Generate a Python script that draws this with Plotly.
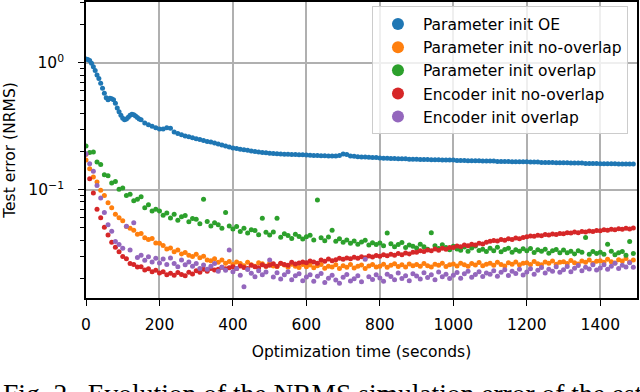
import plotly.graph_objects as go

# ---------------- data ----------------
TIME = [
    0, 10, 20, 30, 40, 50, 60, 70, 80, 90,
    100, 110, 120, 130, 140, 150, 160, 170, 180, 190,
    200, 210, 220, 230, 240, 250, 260, 270, 280, 290,
    300, 310, 320, 330, 340, 350, 360, 370, 380, 390,
    400, 410, 420, 430, 440, 450, 460, 470, 480, 490,
    500, 510, 520, 530, 540, 550, 560, 570, 580, 590,
    600, 610, 620, 630, 640, 650, 660, 670, 680, 690,
    700, 710, 720, 730, 740, 750, 760, 770, 780, 790,
    800, 810, 820, 830, 840, 850, 860, 870, 880, 890,
    900, 910, 920, 930, 940, 950, 960, 970, 980, 990,
    1000, 1010, 1020, 1030, 1040, 1050, 1060, 1070, 1080, 1090,
    1100, 1110, 1120, 1130, 1140, 1150, 1160, 1170, 1180, 1190,
    1200, 1210, 1220, 1230, 1240, 1250, 1260, 1270, 1280, 1290,
    1300, 1310, 1320, 1330, 1340, 1350, 1360, 1370, 1380, 1390,
    1400, 1410, 1420, 1430, 1440, 1450, 1460, 1470, 1480, 1490,
]

BLUE_TIME = [
    0, 5, 10, 15, 20, 25, 30, 35, 40, 45,
    50, 55, 60, 65, 70, 75, 80, 85, 90, 95,
    100, 105, 110, 115, 120, 125, 130, 135, 140, 145,
    150, 160, 170, 180, 190, 200, 210, 220, 230, 240,
    250, 260, 270, 280, 290, 300, 310, 320, 330, 340,
    350, 360, 370, 380, 390, 400, 410, 420, 430, 440,
    450, 460, 470, 480, 490, 500, 510, 520, 530, 540,
    550, 560, 570, 580, 590, 600, 610, 620, 630, 640,
    650, 660, 670, 680, 690, 700, 710, 720, 730, 740,
    750, 760, 770, 780, 790, 800, 810, 820, 830, 840,
    850, 860, 870, 880, 890, 900, 910, 920, 930, 940,
    950, 960, 970, 980, 990, 1000, 1010, 1020, 1030, 1040,
    1050, 1060, 1070, 1080, 1090, 1100, 1110, 1120, 1130, 1140,
    1150, 1160, 1170, 1180, 1190, 1200, 1210, 1220, 1230, 1240,
    1250, 1260, 1270, 1280, 1290, 1300, 1310, 1320, 1330, 1340,
    1350, 1360, 1370, 1380, 1390, 1400, 1410, 1420, 1430, 1440,
    1450, 1460, 1470, 1480, 1490,
]

PARAM_OE = [
    1.07, 1.06, 1.04, 0.99, 0.93, 0.87, 0.80, 0.75, 0.69, 0.63,
    0.575, 0.53, 0.51, 0.525, 0.52, 0.51, 0.48, 0.44, 0.41, 0.385,
    0.365, 0.356, 0.36, 0.372, 0.385, 0.392, 0.39, 0.38, 0.37, 0.36,
    0.355, 0.335, 0.325, 0.316, 0.308, 0.300, 0.301, 0.308, 0.305, 0.285,
    0.277, 0.271, 0.265, 0.261, 0.257, 0.252, 0.248, 0.244, 0.240, 0.237,
    0.233, 0.229, 0.225, 0.221, 0.217, 0.213, 0.211, 0.208, 0.206, 0.204,
    0.202, 0.200, 0.198, 0.196, 0.195, 0.194, 0.193, 0.192, 0.191, 0.190,
    0.190, 0.189, 0.189, 0.188, 0.188, 0.1875, 0.187, 0.186, 0.186, 0.185,
    0.185, 0.184, 0.184, 0.184, 0.186, 0.191, 0.189, 0.184, 0.183, 0.182,
    0.181, 0.181, 0.180, 0.179, 0.179, 0.178, 0.177, 0.177, 0.176, 0.176,
    0.175, 0.175, 0.175, 0.174, 0.174, 0.174, 0.173, 0.173, 0.173, 0.172,
    0.172, 0.172, 0.171, 0.171, 0.171, 0.171, 0.170, 0.170, 0.170, 0.169,
    0.169, 0.169, 0.169, 0.168, 0.168, 0.168, 0.168, 0.167, 0.167, 0.167,
    0.167, 0.166, 0.166, 0.166, 0.166, 0.166, 0.165, 0.165, 0.165, 0.164,
    0.164, 0.164, 0.164, 0.163, 0.163, 0.163, 0.163, 0.162, 0.162, 0.162,
    0.162, 0.161, 0.161, 0.161, 0.161, 0.160, 0.160, 0.160, 0.160, 0.160,
    0.159, 0.159, 0.159, 0.159, 0.159,
]

PARAM_NO_OVERLAP = [
    0.171, 0.146, 0.126, 0.115, 0.099, 0.090, 0.079, 0.072, 0.064, 0.060,
    0.0570, 0.0512, 0.0498, 0.0480, 0.0446, 0.0452, 0.0418, 0.0405, 0.0412, 0.0380,
    0.0378, 0.0364, 0.0341, 0.0348, 0.0325, 0.0335, 0.0312, 0.0320, 0.0304, 0.0298,
    0.0310, 0.0291, 0.0299, 0.0280, 0.0276, 0.0286, 0.0268, 0.0279, 0.0263, 0.0272,
    0.0258, 0.0270, 0.0262, 0.0252, 0.0268, 0.0256, 0.0250, 0.0266, 0.0261, 0.0249,
    0.0263, 0.0251, 0.0248, 0.0262, 0.0255, 0.0245, 0.0259, 0.0250, 0.0244, 0.0258,
    0.0247, 0.0255, 0.0243, 0.0252, 0.0257, 0.0241, 0.0250, 0.0246, 0.0256, 0.0240,
    0.0252, 0.0245, 0.0258, 0.0242, 0.0249, 0.0255, 0.0240, 0.0251, 0.0257, 0.0246,
    0.0250, 0.0259, 0.0245, 0.0254, 0.0261, 0.0248, 0.0256, 0.0246, 0.0260, 0.0252,
    0.0257, 0.0249, 0.0262, 0.0252, 0.0246, 0.0259, 0.0254, 0.0263, 0.0248, 0.0256,
    0.0260, 0.0251, 0.0264, 0.0256, 0.0249, 0.0262, 0.0255, 0.0267, 0.0252, 0.0259,
    0.0263, 0.0254, 0.0268, 0.0257, 0.0251, 0.0266, 0.0259, 0.0270, 0.0256, 0.0264,
    0.0266, 0.0258, 0.0272, 0.0261, 0.0256, 0.0270, 0.0263, 0.0275, 0.0259, 0.0268,
    0.0271, 0.0262, 0.0277, 0.0266, 0.0260, 0.0275, 0.0268, 0.0280, 0.0264, 0.0273,
    0.0276, 0.0268, 0.0283, 0.0271, 0.0265, 0.0281, 0.0274, 0.0287, 0.0270, 0.0279,
]

PARAM_OVERLAP = [
    0.221, 0.196, 0.198, 0.165, 0.158, 0.131, 0.129, 0.113, 0.116, 0.101,
    0.103, 0.090, 0.092, 0.082, 0.084, 0.088, 0.072, 0.076, 0.068, 0.070,
    0.0680, 0.0628, 0.0655, 0.0598, 0.0640, 0.0575, 0.0612, 0.0625, 0.0560, 0.0592,
    0.0585, 0.0538, 0.0840, 0.0562, 0.0518, 0.0550, 0.0530, 0.0497, 0.0660, 0.0518,
    0.0490, 0.0512, 0.0468, 0.0498, 0.0455, 0.0484, 0.0476, 0.0442, 0.0596, 0.0462,
    0.0440, 0.0465, 0.0596, 0.0422, 0.0450, 0.0436, 0.0412, 0.0445, 0.0428, 0.0408,
    0.0425, 0.0438, 0.0402, 0.0830, 0.0418, 0.0396, 0.0424, 0.0480, 0.0392, 0.0410,
    0.0386, 0.0402, 0.0378, 0.0395, 0.0372, 0.0388, 0.0399, 0.0366, 0.0382, 0.0370,
    0.0380, 0.0362, 0.0455, 0.0375, 0.0356, 0.0370, 0.0384, 0.0350, 0.0366, 0.0358,
    0.0348, 0.0372, 0.0355, 0.0340, 0.0458, 0.0362, 0.0344, 0.0368, 0.0350, 0.0337,
    0.0358, 0.0341, 0.0334, 0.0354, 0.0328, 0.0347, 0.0360, 0.0332, 0.0340, 0.0326,
    0.0345, 0.0330, 0.0352, 0.0324, 0.0338, 0.0346, 0.0321, 0.0336, 0.0328, 0.0343,
    0.0330, 0.0344, 0.0320, 0.0336, 0.0327, 0.0340, 0.0316, 0.0330, 0.0338, 0.0319,
    0.0335, 0.0318, 0.0328, 0.0312, 0.0330, 0.0322, 0.0420, 0.0310, 0.0326, 0.0315,
    0.0322, 0.0310, 0.0372, 0.0328, 0.0307, 0.0318, 0.0326, 0.0305, 0.0390, 0.0314,
]

ENC_NO_OVERLAP = [
    0.190, 0.122, 0.094, 0.070, 0.060, 0.0505, 0.0440, 0.0385, 0.0352, 0.0325,
    0.0298, 0.0286, 0.0262, 0.0258, 0.0246, 0.0247, 0.0233, 0.0238, 0.0226, 0.0232,
    0.0221, 0.0226, 0.0214, 0.0220, 0.0212, 0.0223, 0.0215, 0.0210, 0.0224, 0.0217,
    0.0230, 0.0224, 0.0236, 0.0228, 0.0240, 0.0233, 0.0236, 0.0245, 0.0238, 0.0243,
    0.0247, 0.0239, 0.0251, 0.0244, 0.0240, 0.0254, 0.0247, 0.0243, 0.0256, 0.0249,
    0.0254, 0.0261, 0.0250, 0.0263, 0.0257, 0.0254, 0.0268, 0.0260, 0.0265, 0.0270,
    0.0266, 0.0275, 0.0270, 0.0264, 0.0279, 0.0273, 0.0285, 0.0276, 0.0281, 0.0288,
    0.0283, 0.0290, 0.0286, 0.0294, 0.0288, 0.0297, 0.0291, 0.0300, 0.0295, 0.0303,
    0.0299, 0.0307, 0.0302, 0.0310, 0.0304, 0.0314, 0.0308, 0.0317, 0.0312, 0.0321,
    0.0322, 0.0331, 0.0326, 0.0335, 0.0330, 0.0341, 0.0334, 0.0345, 0.0340, 0.0350,
    0.0350, 0.0360, 0.0356, 0.0366, 0.0361, 0.0372, 0.0367, 0.0378, 0.0374, 0.0385,
    0.0392, 0.0398, 0.0395, 0.0405, 0.0400, 0.0410, 0.0406, 0.0416, 0.0411, 0.0421,
    0.0425, 0.0432, 0.0429, 0.0438, 0.0434, 0.0443, 0.0439, 0.0448, 0.0444, 0.0452,
    0.0450, 0.0459, 0.0455, 0.0464, 0.0459, 0.0468, 0.0464, 0.0473, 0.0469, 0.0477,
    0.0474, 0.0483, 0.0479, 0.0487, 0.0483, 0.0492, 0.0487, 0.0496, 0.0491, 0.0500,
]

ENC_OVERLAP = [
    0.192, 0.160, 0.140, 0.108, 0.086, 0.066, 0.053, 0.047, 0.039, 0.037,
    0.0345, 0.0515, 0.0335, 0.0550, 0.0292, 0.0305, 0.0278, 0.0296, 0.0270, 0.0288,
    0.0265, 0.0284, 0.0258, 0.0290, 0.0262, 0.0247, 0.0279, 0.0256, 0.0270, 0.0250,
    0.0262, 0.0240, 0.0255, 0.0236, 0.0250, 0.0262, 0.0228, 0.0245, 0.0232, 0.0335,
    0.0226, 0.0240, 0.0212, 0.0172, 0.0235, 0.0220, 0.0206, 0.0230, 0.0214, 0.0225,
    0.0279, 0.0205, 0.0222, 0.0198, 0.0214, 0.0226, 0.0195, 0.0210, 0.0218, 0.0192,
    0.0205, 0.0214, 0.0190, 0.0208, 0.0219, 0.0186, 0.0201, 0.0212, 0.0194, 0.0183,
    0.0204, 0.0215, 0.0191, 0.0199, 0.0210, 0.0188, 0.0283, 0.0206, 0.0196, 0.0214,
    0.0202, 0.0190, 0.0216, 0.0207, 0.0195, 0.0221, 0.0200, 0.0210, 0.0192, 0.0218,
    0.0209, 0.0198, 0.0222, 0.0203, 0.0214, 0.0195, 0.0225, 0.0206, 0.0216, 0.0200,
    0.0212, 0.0223, 0.0201, 0.0218, 0.0228, 0.0204, 0.0215, 0.0226, 0.0207, 0.0221,
    0.0216, 0.0230, 0.0208, 0.0224, 0.0234, 0.0211, 0.0228, 0.0219, 0.0236, 0.0213,
    0.0225, 0.0238, 0.0216, 0.0232, 0.0244, 0.0221, 0.0236, 0.0228, 0.0247, 0.0224,
    0.0234, 0.0248, 0.0226, 0.0241, 0.0253, 0.0230, 0.0245, 0.0237, 0.0256, 0.0233,
    0.0242, 0.0256, 0.0236, 0.0250, 0.0263, 0.0239, 0.0254, 0.0246, 0.0266, 0.0245,
]

SERIES = [
    ("Parameter init OE", BLUE_TIME, PARAM_OE, "#1f77b4"),
    ("Parameter init no-overlap", TIME, PARAM_NO_OVERLAP, "#ff7f0e"),
    ("Parameter init overlap", TIME, PARAM_OVERLAP, "#2ca02c"),
    ("Encoder init no-overlap", TIME, ENC_NO_OVERLAP, "#d62728"),
    ("Encoder init overlap", TIME, ENC_OVERLAP, "#9467bd"),
]

X_TICKS = [0, 200, 400, 600, 800, 1000, 1200, 1400]
Y_TICKS = [0.1, 1]
Y_TICK_TEXT = ["10<sup>\u22121</sup>", "10<sup>0</sup>"]
Y_MINOR = [0.02, 0.03, 0.04, 0.05, 0.06, 0.07, 0.08, 0.09,
           0.2, 0.3, 0.4, 0.5, 0.6, 0.7, 0.8, 0.9, 2, 3]

CAPTION = "Fig. 2.  Evolution of the NRMS simulation error of the estimated"

# ---------------- figure ----------------
FONT = "DejaVu Sans"
FS = 15.5
fig = go.Figure()
for name, t, v, color in SERIES:
    fig.add_trace(go.Scatter(
        x=t, y=v, mode="markers", name=name,
        marker=dict(color=color, size=5, line=dict(width=0)),
    ))

fig.update_layout(
    width=640, height=392,
    margin=dict(l=86, r=3, t=2, b=94),
    paper_bgcolor="white", plot_bgcolor="white",
    font=dict(family=FONT, size=FS, color="black"),
    showlegend=True,
    legend=dict(
        x=0.519, y=0.985, xanchor="left", yanchor="top",
        bgcolor="rgba(255,255,255,0.8)", bordercolor="#cccccc", borderwidth=1,
        font=dict(family=FONT, size=FS, color="black"),
        itemsizing="constant", itemwidth=40,
    ),
)

fig.update_xaxes(
    range=[0, 1500], tickvals=X_TICKS,
    showline=True, linecolor="black", linewidth=1.6, mirror=True,
    ticks="outside", ticklen=6, tickwidth=1.2, tickcolor="black",
    ticklabelstandoff=6,
    showgrid=True, gridcolor="#b0b0b0", gridwidth=1.5,
    zeroline=False, automargin=False,
    title=dict(text="Optimization time (seconds)", font=dict(family=FONT, size=FS), standoff=13),
)
fig.update_yaxes(
    type="log", range=[-1.853, 0.478],
    tickvals=Y_TICKS, ticktext=Y_TICK_TEXT,
    showline=True, linecolor="black", linewidth=1.6, mirror=True,
    ticks="outside", ticklen=6, tickwidth=1.2, tickcolor="black",
    ticklabelstandoff=11,
    showgrid=True, gridcolor="#b0b0b0", gridwidth=1.5,
    minor=dict(tickvals=Y_MINOR, ticks="outside", ticklen=4, tickwidth=1,
               tickcolor="black", showgrid=False),
    zeroline=False, automargin=False,
    title=dict(text="Test error (NRMS)", font=dict(family=FONT, size=FS), standoff=9),
)

fig.add_annotation(
    text=CAPTION, xref="paper", yref="paper",
    x=-0.1545, y=-0.262, xanchor="left", yanchor="top",
    showarrow=False, align="left",
    font=dict(family="Liberation Serif", size=27.5, color="black"),
)

fig.write_html("out.html", config={"displayModeBar": False},
               post_script="document.body.style.margin='0px';")
